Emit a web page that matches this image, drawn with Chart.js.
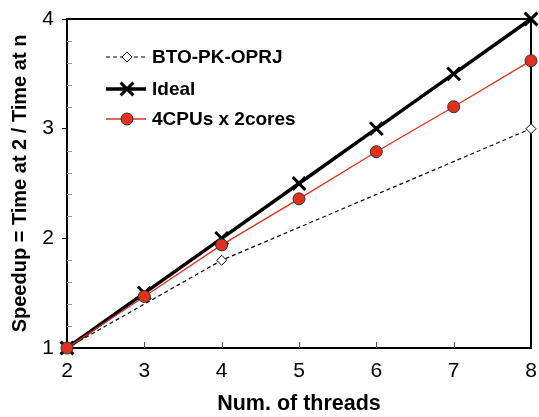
<!DOCTYPE html>
<html>
<head>
<meta charset="utf-8">
<script src="https://cdn.jsdelivr.net/npm/chart.js@4"></script>
<style>
  html, body { margin: 0; padding: 0; background: #fff; }
  #wrap { width: 539px; height: 417px; }
</style>
</head>
<body>
<div id="wrap"><canvas id="speedupChart" width="539" height="417"></canvas></div>
<script>
// data
var threads = [2, 3, 4, 5, 6, 7, 8];
var btoPkOprj = [1, null, 1.8, null, null, null, 3.0];
var ideal = [1, 1.5, 2, 2.5, 3, 3.5, 4];
var cpus4x2 = [1, 1.47, 1.94, 2.36, 2.79, 3.2, 3.62];
var seriesNames = ['BTO-PK-OPRJ', 'Ideal', '4CPUs x 2cores'];

var FONT = '"Liberation Sans", Arial, Helvetica, sans-serif';
var RED = '#e0301e';

function toPoints(values) {
  return threads.map(function(t, i) { return { x: t, y: values[i] }; });
}

function isWhole(v) {
  return Math.abs(v - Math.round(v)) < 1e-6;
}

// frame, inner minor ticks and the legend inside the plot
var decorPlugin = {
  id: 'decor',
  beforeDatasetsDraw: function(chart) {
    var ctx = chart.ctx;
    var area = chart.chartArea;
    var xs = chart.scales.x, ys = chart.scales.y;
    ctx.save();

    // inner ticks
    ctx.lineWidth = 1;
    ctx.strokeStyle = '#999';
    ys.ticks.forEach(function(t) {
      if (isWhole(t.value)) return;
      var py = Math.round(ys.getPixelForValue(t.value)) + 0.5;
      ctx.beginPath();
      ctx.moveTo(area.left, py);
      ctx.lineTo(area.left + 5, py);
      ctx.stroke();
    });
    ctx.strokeStyle = '#555';
    xs.ticks.forEach(function(t) {
      if (t.value <= xs.min || t.value >= xs.max) return;
      var px = Math.round(xs.getPixelForValue(t.value)) + 0.5;
      ctx.beginPath();
      ctx.moveTo(px, area.bottom);
      ctx.lineTo(px, area.bottom - 6);
      ctx.stroke();
    });

    // top and right frame
    ctx.strokeStyle = '#000';
    ctx.lineWidth = 2;
    ctx.beginPath();
    ctx.moveTo(area.left, area.top);
    ctx.lineTo(area.right, area.top);
    ctx.lineTo(area.right, area.bottom);
    ctx.stroke();
    ctx.restore();
  },
  afterDraw: function(chart) {
    var ctx = chart.ctx;
    ctx.save();
    // legend
    var rows = [57, 89, 119];
    var x0 = 106, x1 = 146, mx = 127;
    chart.data.datasets.forEach(function(ds, i) {
      var y = rows[i];
      ctx.save();
      ctx.strokeStyle = ds.borderColor;
      ctx.lineWidth = ds.borderWidth;
      ctx.setLineDash(ds.borderDash || []);
      ctx.beginPath();
      ctx.moveTo(x0, y);
      ctx.lineTo(x1, y);
      ctx.stroke();
      ctx.restore();
      drawMarker(ctx, ds, mx, y);
      ctx.fillStyle = '#000';
      ctx.font = 'bold 19px ' + FONT;
      ctx.textAlign = 'left';
      ctx.textBaseline = 'middle';
      ctx.fillText(ds.label, 152, y + 1);
    });
    ctx.restore();
  }
};

function drawMarker(ctx, ds, x, y) {
  var r = ds.pointRadius;
  ctx.save();
  ctx.lineWidth = ds.pointBorderWidth;
  ctx.strokeStyle = ds.pointBorderColor;
  ctx.fillStyle = ds.pointBackgroundColor;
  ctx.beginPath();
  if (ds.pointStyle === 'rectRot') {
    ctx.moveTo(x, y - r);
    ctx.lineTo(x + r, y);
    ctx.lineTo(x, y + r);
    ctx.lineTo(x - r, y);
    ctx.closePath();
    ctx.fill();
    ctx.stroke();
  } else if (ds.pointStyle === 'crossRot') {
    var d = r * Math.SQRT1_2;
    ctx.moveTo(x - d, y - d);
    ctx.lineTo(x + d, y + d);
    ctx.moveTo(x + d, y - d);
    ctx.lineTo(x - d, y + d);
    ctx.stroke();
  } else {
    ctx.arc(x, y, r, 0, Math.PI * 2);
    ctx.fill();
    ctx.stroke();
  }
  ctx.restore();
}

new Chart(document.getElementById('speedupChart').getContext('2d'), {
  type: 'line',
  data: {
    datasets: [{
      label: seriesNames[0],
      data: toPoints(btoPkOprj),
      spanGaps: true,
      clip: false,
      borderColor: '#000',
      borderWidth: 1.2,
      borderDash: [4, 3],
      pointStyle: 'rectRot',
      pointRadius: 5,
      pointBorderWidth: 1,
      pointBorderColor: '#000',
      pointBackgroundColor: '#fff',
      order: 2
    }, {
      label: seriesNames[1],
      data: toPoints(ideal),
      clip: false,
      borderColor: '#000',
      borderWidth: 3.5,
      pointStyle: 'crossRot',
      pointRadius: 9,
      pointBorderWidth: 3,
      pointBorderColor: '#000',
      pointBackgroundColor: '#000',
      order: 1
    }, {
      label: seriesNames[2],
      data: toPoints(cpus4x2),
      clip: false,
      borderColor: RED,
      borderWidth: 1.3,
      pointStyle: 'circle',
      pointRadius: 6,
      pointBorderWidth: 1,
      pointBorderColor: '#333',
      pointBackgroundColor: RED,
      order: 0
    }]
  },
  options: {
    responsive: false,
    animation: false,
    layout: {
      autoPadding: false,
      padding: { top: 19, right: 8, left: 0, bottom: 0 }
    },
    plugins: {
      legend: { display: false },
      tooltip: { enabled: false }
    },
    scales: {
      x: {
        type: 'linear',
        min: 2,
        max: 8,
        afterFit: function(s) {
          s.height = 69;
          s.paddingLeft = 0;
          s.paddingRight = 8;
        },
        ticks: {
          stepSize: 1,
          padding: 11,
          color: '#000',
          font: { family: FONT, size: 21 }
        },
        grid: { display: false, drawTicks: false },
        border: { display: true, color: '#000', width: 2 },
        title: {
          display: true,
          text: 'Num. of threads',
          color: '#000',
          padding: { top: 0, bottom: 0 },
          font: { family: FONT, size: 21.5, weight: 'bold' }
        }
      },
      y: {
        min: 1,
        max: 4,
        afterFit: function(s) {
          s.width = 67;
          s.paddingTop = 0;
          s.paddingBottom = 0;
        },
        ticks: {
          stepSize: 0.2,
          autoSkip: false,
          padding: 8,
          color: '#000',
          font: { family: FONT, size: 21 },
          callback: function(v) { return isWhole(v) ? String(Math.round(v)) : ''; }
        },
        grid: {
          drawOnChartArea: false,
          drawTicks: true,
          tickLength: 5,
          lineWidth: 1,
          color: function(c) { return c.tick && isWhole(c.tick.value) ? '#000' : 'rgba(0,0,0,0)'; }
        },
        border: { display: true, color: '#000', width: 2 },
        title: {
          display: true,
          text: 'Speedup = Time at 2 / Time at n',
          color: '#000',
          padding: { top: 8, bottom: 0 },
          font: { family: FONT, size: 20, weight: 'bold' }
        }
      }
    }
  },
  plugins: [decorPlugin]
});
</script>
</body>
</html>
